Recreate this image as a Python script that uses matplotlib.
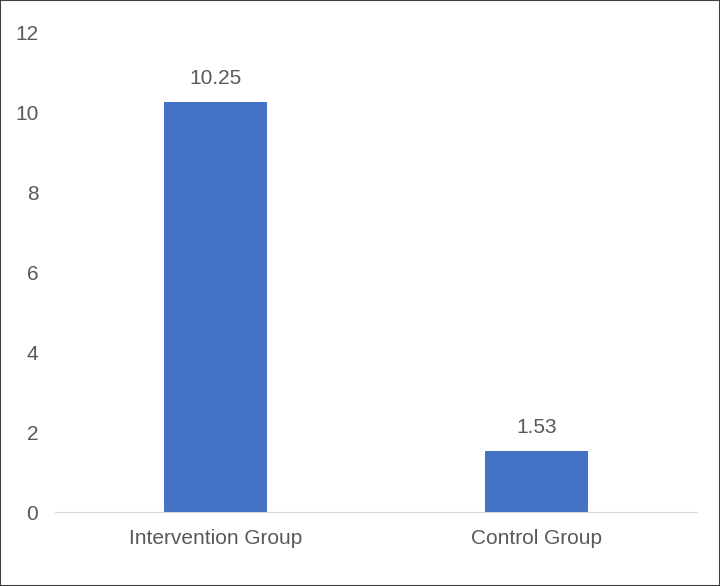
import matplotlib.pyplot as plt
from matplotlib.patches import Rectangle

categories = ['Intervention Group', 'Control Group']
values = [10.25, 1.53]
labels = ['10.25', '1.53']

plt.rcParams['font.family'] = 'Liberation Sans'
grey = '#595959'

fig = plt.figure(figsize=(7.2, 5.86), dpi=100)
ax = fig.add_axes([0.0764, 0.126, 0.8916, 0.819])

x = range(len(categories))
ax.bar(x, values, width=0.32, color='#4472C4')
for i, (v, t) in enumerate(zip(values, labels)):
    ax.text(i, v + 0.35, t, ha='center', va='bottom', fontsize=15, color=grey)

ax.set_xlim(-0.5, 1.5)
ax.set_ylim(0, 12)
ax.set_yticks(range(0, 13, 2))
ax.set_xticks(list(x))
ax.set_xticklabels(categories)
ax.tick_params(axis='both', length=0, labelsize=15, colors=grey)
ax.tick_params(axis='y', pad=12)
ax.tick_params(axis='x', pad=12)
for s in ['top', 'right', 'left']:
    ax.spines[s].set_visible(False)
ax.spines['bottom'].set_color('#d9d9d9')

fig.patches.append(Rectangle((0, 0), 1, 1, transform=fig.transFigure,
                             fill=False, edgecolor='#404040', linewidth=1.5))

fig.savefig('out.png', dpi=100)
